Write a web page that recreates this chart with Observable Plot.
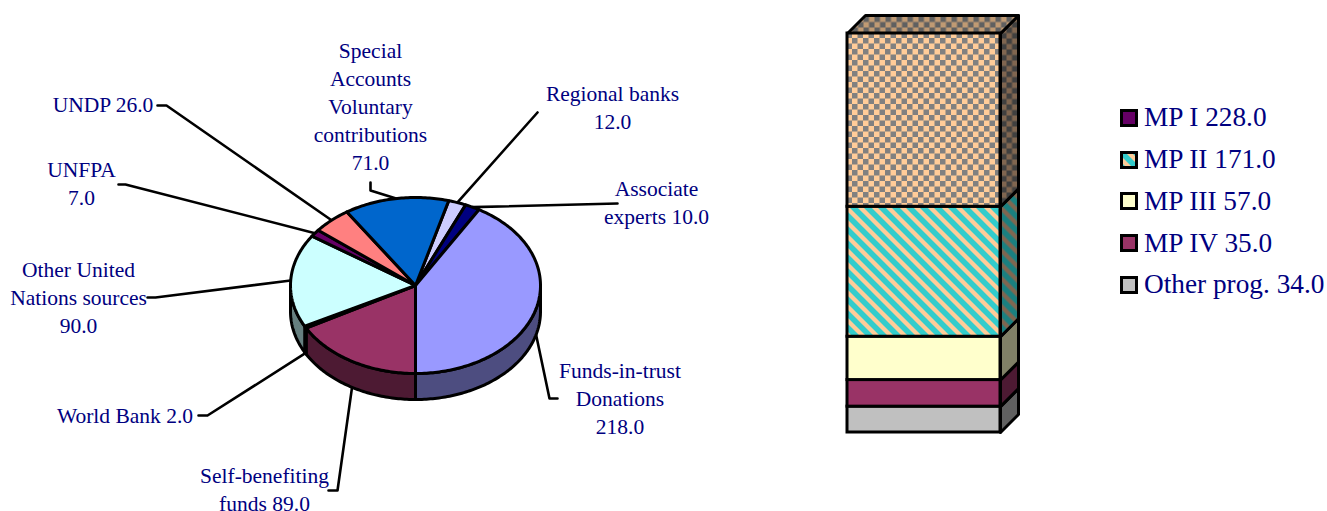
<!DOCTYPE html>
<html>
<head>
<meta charset="utf-8">
<script src="https://cdn.jsdelivr.net/npm/d3@7"></script>
<script src="https://cdn.jsdelivr.net/npm/@observablehq/plot@0.6"></script>
<style>
  html, body { margin: 0; padding: 0; background: #fff; overflow: hidden; }
  #chart { position: relative; width: 1327px; height: 511px; font-family: "Liberation Serif", serif; color: #000080; }
  #chart > svg, #chart > figure { position: absolute; top: 0; margin: 0; }
  #legend { position: absolute; left: 1120px; top: 97px; }
  #legend .row { display: flex; align-items: center; height: 41.75px; font-size: 27.3px; white-space: nowrap; }
  #legend svg { display: block; margin-right: 6px; }
</style>
</head>
<body>
<div id="chart"></div>
<script>
// ---- Pie data (clockwise from the top of the pie)
const pieNames = ["Regional banks", "Associate experts", "Funds-in-trust Donations", "Self-benefiting funds", "World Bank", "Other United Nations sources", "UNFPA", "UNDP", "Special Accounts Voluntary contributions"];
const pieValues = [12, 10, 218, 89, 2, 90, 7, 26, 71];
const pieColors = ["#CCCCFF", "#000080", "#9999FF", "#993366", "#FFFFCC", "#CCFFFF", "#660066", "#FF8080", "#0066CC"];
const pieSideColors = ["#666680", "#000040", "#4D4D80", "#4D1A33", "#808066", "#668080", "#330033", "#804040", "#003366"];
const pieLabels = ["Regional banks\n12.0", "Associate\nexperts 10.0", "Funds-in-trust\nDonations\n218.0", "Self-benefiting\nfunds 89.0", "World Bank 2.0", "Other United\nNations sources\n90.0", "UNFPA\n7.0", "UNDP 26.0", "Special\nAccounts\nVoluntary\ncontributions\n71.0"];

// ---- Stacked column data (bottom to top)
const stackNames = ["Other prog.", "MP IV", "MP III", "MP II", "MP I"];
const stackValues = [34, 35, 57, 171, 228];

// ---- Legend (top to bottom)
const legendNames = ["MP I", "MP II", "MP III", "MP IV", "Other prog."];
const legendValues = [228, 171, 57, 35, 34];

// ---- Styles and layout, kept apart from the data
const stackFills = ["#C0C0C0", "#993366", "#FFFFCC", "url(#diag)", "url(#check)"];
const stackSides = ["#606060", "#4D1A33", "#808066", "url(#diagSide)", "url(#checkSide)"];
const legendFills = ["#660066", "url(#diagLegend)", "#FFFFCC", "#993366", "#C0C0C0"];
const pieCenter = {x: 415, y: 285, rx: 125, ry: 88, depth: 26};
// label centre and leader elbow points, outward from the pie
const labelSpots = [
  {x: 612, y: 106, leader: [[537, 112]]},
  {x: 656, y: 201, leader: [[617, 203]]},
  {x: 619.5, y: 397, leader: [[549, 398], [557, 398]]},
  {x: 264, y: 488, leader: [[337, 490], [328, 490]]},
  {x: 124.5, y: 414, leader: [[207, 415], [198, 415]]},
  {x: 78, y: 296, leader: [[155, 297], [147, 297]]},
  {x: 81, y: 182, leader: [[125, 184], [118, 184]]},
  {x: 102.5, y: 103, leader: [[166, 105], [157, 105]]},
  {x: 370, y: 105, leader: [[370, 190], [370, 182]]}
];
const ink = "#000000";
const navy = "#000080";
const serif = "Liberation Serif";
const outline = 3;
const leaderWidth = 2.6;

// ---- Pie geometry derived from the values
const total = d3.sum(pieValues);
const toRad = Math.PI / 180;
// Funds-in-trust ends exactly at the bottom of the pie
const startAngle = Math.PI - (d3.sum(pieValues.slice(0, 3)) / total) * 2 * Math.PI;
const arcs = d3.pie().sort(null).startAngle(startAngle).endAngle(startAngle + 2 * Math.PI)(pieValues);
const px = a => pieCenter.x + pieCenter.rx * Math.sin(a);
const py = a => pieCenter.y - pieCenter.ry * Math.cos(a);
const sweep = (a0, a1) => {
  const n = Math.max(2, Math.ceil(Math.abs(a1 - a0) / toRad));
  return d3.range(n + 1).map(i => a0 + (a1 - a0) * i / n);
};

// Top faces
const topFaces = arcs.map((arc, i) => ({
  fill: pieColors[i],
  points: [
    {x: pieCenter.x, y: pieCenter.y},
    ...sweep(arc.startAngle, arc.endAngle).map(a => ({x: px(a), y: py(a)}))
  ]
}));
// Outer wall: only the part of each slice on the near side of the pie
const sideFaces = arcs.flatMap((arc, i) => {
  const a0 = Math.max(arc.startAngle, Math.PI / 2);
  const a1 = Math.min(arc.endAngle, 3 * Math.PI / 2);
  if (a1 <= a0) return [];
  const s = sweep(a0, a1);
  return [{
    fill: pieSideColors[i],
    points: [
      ...s.map(a => ({x: px(a), y: py(a)})),
      ...s.slice().reverse().map(a => ({x: px(a), y: py(a) + pieCenter.depth}))
    ]
  }];
});
// Leader lines start on the slice's middle angle
const leaders = arcs.map((arc, i) => {
  const mid = (arc.startAngle + arc.endAngle) / 2;
  const near = Math.cos(mid) < 0;
  return [
    [px(mid), py(mid) + (near ? pieCenter.depth : 0)],
    ...labelSpots[i].leader
  ].map(([x, y]) => ({x, y}));
});
const labelRows = pieLabels.map((text, i) => ({text, x: labelSpots[i].x, y: labelSpots[i].y}));

const closedShape = (shape, strokeWidth) => Plot.line(shape.points, {
  x: "x", y: "y", fill: shape.fill, stroke: ink, strokeWidth, curve: "linear-closed"
});

const piePlot = Plot.plot({
  width: 800, height: 511,
  margin: 0,
  x: {domain: [0, 800], range: [0, 800], axis: null},
  y: {domain: [0, 511], range: [0, 511], axis: null},
  marks: [
    ...leaders.map(points => Plot.line(points, {x: "x", y: "y", stroke: ink, strokeWidth: leaderWidth})),
    ...sideFaces.map(f => closedShape(f, outline)),
    ...topFaces.map(f => closedShape(f, outline)),
    Plot.text(labelRows, {
      x: "x", y: "y", text: "text",
      fill: navy, fontFamily: serif, fontSize: 21.5, lineHeight: 1.302
    })
  ]
});

// ---- Stacked column with a 3D wall, in value units on the y scale
const colScale = {x0: 47, x1: 200, yBottom: 432, yTop: 33};
const unitsPerPx = d3.sum(stackValues) / (colScale.yBottom - colScale.yTop);
const depthPx = 18;
const depthX = depthPx / (colScale.x1 - colScale.x0);
const depthY = depthPx * unitsPerPx;
const tops = d3.cumsum(stackValues);
const stacked = stackValues.map((v, i) => ({
  name: stackNames[i],
  y1: tops[i] - v,
  y2: tops[i],
  fill: stackFills[i],
  side: stackSides[i]
}));
const wall = s => [
  {x: 1, y: s.y1}, {x: 1 + depthX, y: s.y1 + depthY},
  {x: 1 + depthX, y: s.y2 + depthY}, {x: 1, y: s.y2}
];
const roof = s => [
  {x: 0, y: s.y2}, {x: depthX, y: s.y2 + depthY},
  {x: 1 + depthX, y: s.y2 + depthY}, {x: 1, y: s.y2}
];
const colPlot = Plot.plot({
  width: 527, height: 511,
  margin: 0,
  x: {domain: [0, 1], range: [colScale.x0, colScale.x1], axis: null},
  y: {domain: [0, d3.sum(stackValues)], range: [colScale.yBottom, colScale.yTop], axis: null},
  marks: [
    ...stacked.map(s => Plot.line(wall(s), {x: "x", y: "y", fill: s.side, stroke: ink, strokeWidth: outline, curve: "linear-closed"})),
    Plot.line(roof(stacked[stacked.length - 1]), {x: "x", y: "y", fill: "url(#checkTop)", stroke: ink, strokeWidth: outline, curve: "linear-closed"}),
    Plot.rect(stacked, {x1: () => 0, x2: () => 1, y1: "y1", y2: "y2", fill: "fill", stroke: ink, strokeWidth: outline})
  ]
});

// ---- Hatch fills
const checker = (id, a, b) => `<pattern id="${id}" patternUnits="userSpaceOnUse" width="11" height="11" x="52" y="38">
  <rect width="11" height="11" fill="${a}"/><rect width="5.5" height="5.5" fill="${b}"/><rect x="5.5" y="5.5" width="5.5" height="5.5" fill="${b}"/></pattern>`;
const diagonal = (id, a, b) => `<pattern id="${id}" patternUnits="userSpaceOnUse" width="14" height="14">
  <rect width="14" height="14" fill="${a}"/>
  <path d="M-3 -3L17 17M-3 11L3 17M11 -3L17 3" stroke="${b}" stroke-width="5.6" fill="none"/></pattern>`;
d3.select(colPlot).insert("defs", ":first-child").html(
  checker("check", "#FFCC99", "#808080") +
  checker("checkTop", "#C09A73", "#606060") +
  checker("checkSide", "#806650", "#404040") +
  diagonal("diag", "#FFCC99", "#33CCCC") +
  diagonal("diagSide", "#806650", "#1A8080") +
  diagonal("diagLegend", "#FFCC99", "#33CCCC")
);

piePlot.style.left = "0px";
colPlot.style.left = "800px";
const chart = document.getElementById("chart");
chart.append(piePlot, colPlot);

// ---- Legend as HTML text beside the plots
const legend = d3.select(chart).append("div").attr("id", "legend");
legendNames.forEach((name, i) => {
  const row = legend.append("div").attr("class", "row");
  const sw = row.append("svg").attr("width", 18).attr("height", 18);
  sw.append("rect").attr("x", 1.5).attr("y", 1.5).attr("width", 15).attr("height", 15)
    .attr("fill", legendFills[i]).attr("stroke", ink).attr("stroke-width", 3);
  row.append("span").text(`${name} ${legendValues[i].toFixed(1)}`);
});
</script>
</body>
</html>
